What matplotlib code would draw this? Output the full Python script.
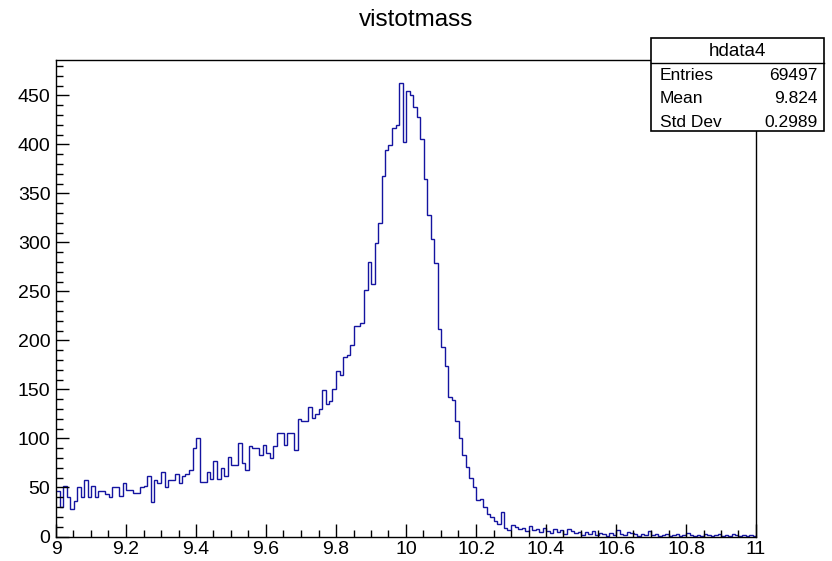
import numpy as np
import matplotlib
matplotlib.use("Agg")
import matplotlib.pyplot as plt
from matplotlib.patches import Rectangle
from matplotlib.ticker import MultipleLocator

# histogram "hdata4": 200 bins of 0.01 between 9 and 11
x_lo, x_hi, n_bins = 9.0, 11.0, 200

# 9.00 - 9.59
counts_low = [46, 30, 52, 40, 28, 36, 50, 40, 58, 40,
              52, 40, 46, 46, 43, 40, 51, 50, 41, 55,
              47, 47, 44, 44, 51, 52, 62, 35, 58, 55,
              66, 51, 58, 58, 64, 55, 62, 64, 68, 90,
              101, 56, 56, 66, 59, 77, 59, 70, 62, 81,
              73, 73, 95, 75, 68, 92, 90, 90, 83, 93]
# 9.60 - 9.99
counts_rise = [85, 80, 92, 106, 106, 93, 106, 106, 88, 120,
               118, 118, 132, 121, 125, 130, 149, 135, 138, 150,
               169, 165, 183, 185, 195, 215, 215, 218, 251, 280,
               258, 299, 320, 368, 394, 399, 417, 420, 463, 402]
# 10.00 - 10.32
counts_fall = [455, 450, 438, 428, 406, 365, 328, 304, 279, 212,
               193, 174, 142, 139, 118, 100, 83, 71, 60, 50,
               37, 38, 30, 23, 20, 16, 13, 25, 9, 7,
               12, 10, 8]
# 10.33 - 10.99
counts_tail = [9, 6, 11, 7, 8, 5, 9, 6, 4, 8,
               5, 7, 3, 8, 6, 4, 5, 2, 5, 3,
               6, 2, 4, 3, 1, 4, 2, 7, 3, 2,
               5, 4, 3, 1, 3, 2, 6, 2, 3, 1,
               2, 3, 1, 2, 3, 1, 2, 4, 2, 1,
               2, 1, 3, 2, 1, 2, 3, 1, 2, 1,
               3, 2, 1, 2, 1, 2, 1]

stats_name = "hdata4"
stats_rows = [("Entries", "69497"), ("Mean", "9.824"), ("Std Dev", "0.2989")]
title = "vistotmass"

counts = np.array(counts_low + counts_rise + counts_fall + counts_tail, dtype=float)
edges = np.linspace(x_lo, x_hi, n_bins + 1)

plt.rcParams["font.family"] = ["Liberation Sans", "DejaVu Sans"]

W, H = 832, 561
fig = plt.figure(figsize=(W / 100, H / 100), dpi=100)
fig.patch.set_facecolor("white")
ax = fig.add_axes([56 / W, 1 - 536.5 / H, 700 / W, 476.5 / H])

ax.stairs(counts, edges, color="#1414a0", linewidth=1.0, baseline=None)

ax.set_xlim(x_lo, x_hi)
ax.set_ylim(0, counts.max() * 1.05)
ax.xaxis.set_major_locator(MultipleLocator(0.2))
ax.xaxis.set_minor_locator(MultipleLocator(0.05))
ax.yaxis.set_major_locator(MultipleLocator(50))
ax.yaxis.set_minor_locator(MultipleLocator(10))
ax.xaxis.set_major_formatter(matplotlib.ticker.FuncFormatter(lambda v, p: f"{v:g}"))
ax.tick_params(which="both", direction="in", top=False, right=False,
               labelsize=14, color="black", width=1)
ax.tick_params(which="major", length=9.4)
ax.tick_params(which="minor", length=4.7)
ax.tick_params(axis="x", pad=3)
ax.tick_params(axis="y", pad=4)
for sp in ax.spines.values():
    sp.set_color("black")
    sp.set_linewidth(1)

fig.text(0.5, 1 - 20 / H, title, ha="center", va="center", fontsize=17.5)

# stats box
bx0, bx1, by0, by1 = 651, 824, 38, 131
fig.add_artist(Rectangle((bx0 / W, 1 - by1 / H), (bx1 - bx0) / W, (by1 - by0) / H,
                         transform=fig.transFigure, facecolor="white",
                         edgecolor="black", linewidth=1.2, zorder=5))
fig.add_artist(plt.Line2D([bx0 / W, bx1 / W], [1 - 63 / H, 1 - 63 / H],
                          transform=fig.transFigure, color="black", linewidth=1, zorder=6))
fig.text((bx0 + bx1) / 2 / W, 1 - 51 / H, stats_name, ha="center", va="center",
         fontsize=13.5, zorder=7)
for i, (k, v) in enumerate(stats_rows):
    yy = 1 - (75 + 23.5 * i) / H
    fig.text(660 / W, yy, k, ha="left", va="center", fontsize=12.5, zorder=7)
    fig.text(818 / W, yy, v, ha="right", va="center", fontsize=12.5, zorder=7)

fig.savefig("out.png", dpi=100, facecolor="white")
